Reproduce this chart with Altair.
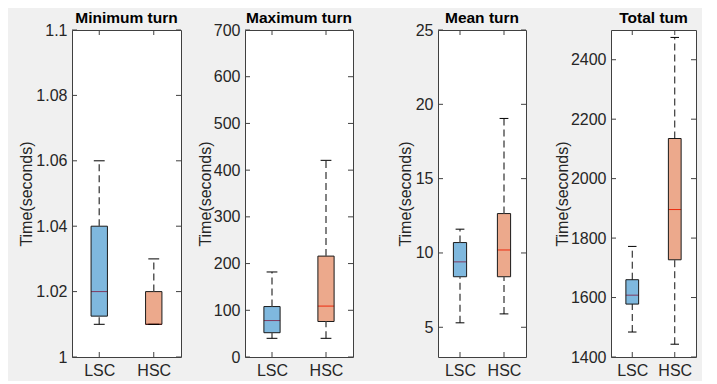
import altair as alt
import pandas as pd

groups = ["LSC", "HSC"]
positions = [1, 2]
box_colors = ["#0072BD", "#D95319"]

titles = ["Minimum turn", "Maximum turn", "Mean turn", "Total tum"]

# five-number summaries per group: lower whisker, Q1, median, Q3, upper whisker
min_lower = [1.01, 1.01]
min_q1 = [1.0125, 1.01]
min_median = [1.02, 1.01]
min_q3 = [1.04, 1.02]
min_upper = [1.06, 1.03]

max_lower = [40, 40]
max_q1 = [52, 76]
max_median = [78, 109]
max_q3 = [108, 216]
max_upper = [182, 421]

mean_lower = [5.3, 5.9]
mean_q1 = [8.4, 8.4]
mean_median = [9.4, 10.2]
mean_q3 = [10.7, 12.65]
mean_upper = [11.6, 19.05]

tot_lower = [1484, 1443]
tot_q1 = [1578, 1727]
tot_median = [1608, 1896]
tot_q3 = [1660, 2135]
tot_upper = [1772, 2475]

min_domain = [1.0, 1.1]
max_domain = [0, 700]
mean_domain = [3, 25]
tot_domain = [1400, 2500]

min_ticks = [1.0, 1.02, 1.04, 1.06, 1.08, 1.1]
max_ticks = [0, 100, 200, 300, 400, 500, 600, 700]
mean_ticks = [5, 10, 15, 20, 25]
tot_ticks = [1400, 1600, 1800, 2000, 2200, 2400]

FONT = "Liberation Sans"
FRAME = "#404040"
TEXT = "#262626"
H = 327


def panel(title, lower, q1, med, q3, upper, domain, ticks, fmt, width, title_x,
          wcolor, wwidth):
    df = pd.DataFrame({"group": groups, "pos": positions, "lower": lower,
                       "q1": q1, "median": med, "q3": q3, "upper": upper})
    tdf = pd.DataFrame({"t": ticks})
    ttl = pd.DataFrame({"title": [title]})
    xs = alt.Scale(domain=[0.5, 2.5], nice=False, zero=False)
    ys = alt.Scale(domain=domain, nice=False, zero=False)
    label_expr = "[" + ",".join("'%s'" % g for g in groups) + "][datum.value - 1]"
    xaxis = alt.Axis(values=positions, labelExpr=label_expr, ticks=False,
                     domain=False, grid=False, labelPadding=5, title=None,
                     labelFontSize=16, labelColor=TEXT, labelFont=FONT)
    yaxis = alt.Axis(values=ticks, format=fmt, ticks=False, domain=False,
                     grid=False, labelPadding=5, title="Time(seconds)",
                     titleX=title_x, titleFontSize=16, titleFontWeight="normal",
                     titleColor=TEXT, titleFont=FONT, labelFontSize=16,
                     labelColor=TEXT, labelFont=FONT)
    base = alt.Chart(df).transform_calculate(
        b0="datum.pos - 0.15", b1="datum.pos + 0.15",
        c0="datum.pos - 0.1", c1="datum.pos + 0.1")
    X = lambda f: alt.X(f, scale=xs, axis=xaxis)
    Y = lambda f: alt.Y(f, scale=ys, axis=yaxis)

    median = base.mark_rule(color="#FF0000", strokeWidth=1).encode(
        x=X("b0:Q"), x2="b1:Q", y=Y("median:Q"))
    box = base.mark_rect(fillOpacity=0.5, stroke="#1a1a1a", strokeWidth=1).encode(
        x=X("b0:Q"), x2="b1:Q", y=Y("q1:Q"), y2="q3:Q",
        color=alt.Color("group:N", scale=alt.Scale(domain=groups, range=box_colors),
                        legend=None))
    w_up = base.mark_rule(color=wcolor, strokeWidth=wwidth, strokeDash=[7, 4]).encode(
        x=X("pos:Q"), y=Y("q3:Q"), y2="upper:Q")
    w_lo = base.mark_rule(color=wcolor, strokeWidth=wwidth, strokeDash=[7, 4]).encode(
        x=X("pos:Q"), y=Y("lower:Q"), y2="q1:Q")
    cap_up = base.mark_rule(color="black", strokeWidth=1).encode(
        x=X("c0:Q"), x2="c1:Q", y=Y("upper:Q"))
    cap_lo = base.mark_rule(color="black", strokeWidth=1).encode(
        x=X("c0:Q"), x2="c1:Q", y=Y("lower:Q"))
    tick_l = alt.Chart(tdf).mark_rule(color=FRAME).encode(
        y=Y("t:Q"), x=alt.value(0), x2=alt.value(5))
    tick_r = alt.Chart(tdf).mark_rule(color=FRAME).encode(
        y=Y("t:Q"), x=alt.value(width), x2=alt.value(width - 5))
    tick_b = base.mark_rule(color=FRAME).encode(
        x=X("pos:Q"), y=alt.value(H), y2=alt.value(H - 5))
    tick_t = base.mark_rule(color=FRAME).encode(
        x=X("pos:Q"), y=alt.value(0), y2=alt.value(5))
    head = alt.Chart(ttl).mark_text(
        fontSize=15.5, fontWeight="bold", color="black", font=FONT,
        align="center", baseline="alphabetic").encode(
        text="title:N", x=alt.value(width / 2), y=alt.value(-7))

    return alt.layer(median, box, w_up, w_lo, cap_up, cap_lo,
                     tick_l, tick_r, tick_b, tick_t, head).properties(
        width=width, height=H,
        view=alt.ViewBackground(fill="white", stroke=FRAME, strokeWidth=1))


def spacer(w):
    return alt.Chart(pd.DataFrame({"v": [0]})).mark_point(opacity=0).encode(
        x=alt.X("v:Q", axis=None), y=alt.Y("v:Q", axis=None)
    ).properties(width=w, height=H,
                 view=alt.ViewBackground(fill="transparent", stroke="transparent"))


p1 = panel(titles[0], min_lower, min_q1, min_median, min_q3, min_upper,
           min_domain, min_ticks, ".2~f", 109, -38, "#595959", 1.5)
p2 = panel(titles[1], max_lower, max_q1, max_median, max_q3, max_upper,
           max_domain, max_ticks, "d", 108, -32, "#595959", 1.5)
p3 = panel(titles[2], mean_lower, mean_q1, mean_median, mean_q3, mean_upper,
           mean_domain, mean_ticks, "d", 88, -25, "#595959", 1.5)
p4 = panel(titles[3], tot_lower, tot_q1, tot_median, tot_q3, tot_upper,
           tot_domain, tot_ticks, "d", 85, -41, "#111111", 1)

chart = alt.hconcat(p1, spacer(64), p2, spacer(85), p3, spacer(85), p4,
                    spacing=0, bounds="flush").properties(
    padding={"left": 9, "top": 2, "right": 5, "bottom": 2},
    background="#F0F0F0"
).configure_view(stroke="transparent")

chart.save("out.html", embed_options={"renderer": "svg", "actions": False})
